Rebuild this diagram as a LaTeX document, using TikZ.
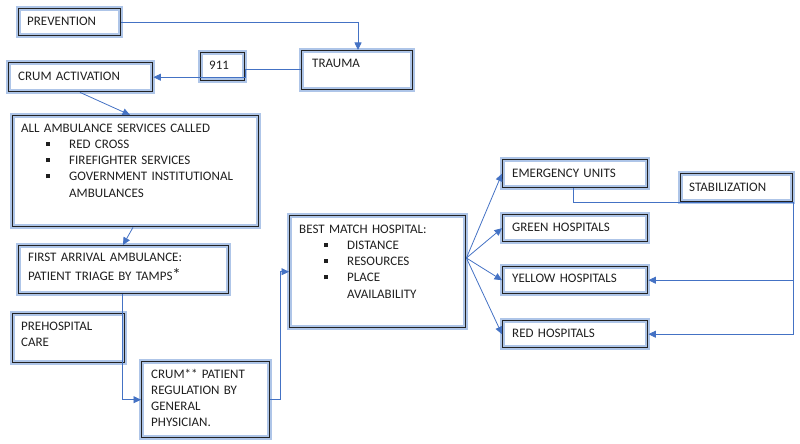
\documentclass[tikz,border=0pt]{standalone}
\usepackage{fontspec}
\setmainfont{Carlito}
\usetikzlibrary{arrows.meta,calc}
\definecolor{conn}{RGB}{68,114,196}
\definecolor{glow}{RGB}{140,172,222}
\definecolor{edge}{RGB}{35,35,35}
\tikzset{
 box/.style={draw=edge, line width=1.4pt, preaction={draw=glow, line width=5pt, opacity=0.7}, rectangle, inner sep=0pt, anchor=north west},
 txt/.style={inner sep=0pt, anchor=base west, text=black!88, font=\fontsize{13}{16.3}\selectfont, align=left, text width=250pt},
 link/.style={draw=conn, line width=0.8pt},
 arr/.style={link, -{Triangle[length=7.5pt,width=7pt]}},
}
\newcommand\bul{\hspace*{25pt}\makebox[23pt][l]{\raisebox{2.5pt}{\rule{4pt}{4pt}}}}
\begin{document}
\begin{tikzpicture}[x=1pt,y=-1pt]
\useasboundingbox (0,0) rectangle (800,444);
% boxes
\node[box, minimum width=102pt, minimum height=27pt] (prev) at (18,8) {};
\node[box, minimum width=111pt, minimum height=39pt] (trauma) at (301,50) {};
\node[box, minimum width=44pt, minimum height=28pt] (n911) at (200,52) {};
\node[box, minimum width=144pt, minimum height=29pt] (crumact) at (8,62) {};
\node[box, minimum width=246pt, minimum height=111pt] (aas) at (12,115) {};
\node[box, minimum width=210pt, minimum height=48pt] (first) at (18,245) {};
\node[box, minimum width=112pt, minimum height=49pt] (prehosp) at (12,313) {};
\node[box, minimum width=128pt, minimum height=76pt] (crumreg) at (141,361) {};
\node[box, minimum width=176pt, minimum height=112pt] (best) at (289,215) {};
\node[box, minimum width=145pt, minimum height=28pt] (emerg) at (502,159) {};
\node[box, minimum width=145pt, minimum height=27pt] (green) at (502,214) {};
\node[box, minimum width=145pt, minimum height=27pt] (yellow) at (502,266) {};
\node[box, minimum width=145pt, minimum height=27pt] (red) at (502,320) {};
\node[box, minimum width=112pt, minimum height=28pt] (stab) at (680,173) {};
% texts
\node[txt] (prev-t) at ([shift={(9,18)}]prev.north west) {PREVENTION};
\node[txt] (trauma-t) at ([shift={(11,17)}]trauma.north west) {TRAUMA};
\node[txt] (n911-t) at ([shift={(9,18)}]n911.north west) {911};
\node[txt] (crumact-t) at ([shift={(10,19)}]crumact.north west) {CRUM ACTIVATION};
\node[txt] (aas-t) at ([shift={(9,17)}]aas.north west) {ALL AMBULANCE SERVICES CALLED\\
\bul RED CROSS\\
\bul FIREFIGHTER SERVICES\\
\bul GOVERNMENT INSTITUTIONAL\\
\hspace*{48pt}AMBULANCES};
\node[txt, font=\fontsize{13}{19}\selectfont] (first-t) at ([shift={(10,16)}]first.north west) {FIRST ARRIVAL AMBULANCE:\\
PATIENT TRIAGE BY TAMPS{\fontsize{17}{17}\selectfont *}};
\node[txt] (prehosp-t) at ([shift={(9,17)}]prehosp.north west) {PREHOSPITAL\\ CARE};
\node[txt] (crumreg-t) at ([shift={(10,17)}]crumreg.north west) {CRUM** PATIENT\\ REGULATION BY\\ GENERAL\\ PHYSICIAN.};
\node[txt] (best-t) at ([shift={(10,18)}]best.north west) {BEST MATCH HOSPITAL:\\
\bul DISTANCE\\
\bul RESOURCES\\
\bul PLACE\\
\hspace*{48pt}AVAILABILITY};
\node[txt] (emerg-t) at ([shift={(10,18)}]emerg.north west) {EMERGENCY UNITS};
\node[txt] (green-t) at ([shift={(10,17)}]green.north west) {GREEN HOSPITALS};
\node[txt] (yellow-t) at ([shift={(10,16)}]yellow.north west) {YELLOW HOSPITALS};
\node[txt] (red-t) at ([shift={(10,17)}]red.north west) {RED HOSPITALS};
\node[txt] (stab-t) at ([shift={(9,18)}]stab.north west) {STABILIZATION};
% connectors
\draw[arr] (prev.east) -| ([shift={(57,0)}]trauma.north west);
\draw[link] ([shift={(0,19)}]trauma.north west) -- ([shift={(0,17)}]n911.north east);
\draw[arr] ([shift={(0,17)}]n911.north east) |- (crumact.east);
\draw[arr] ([shift={(72,0)}]crumact.south west) -- ([shift={(118,0)}]aas.north west);
\draw[arr] ([shift={(121,0)}]aas.south west) -- ([shift={(105,0)}]first.north west);
\draw[arr] ([shift={(104,0)}]first.south west) |- (crumreg.west);
\draw[arr] (crumreg.east) -- ++(10,0) |- (best.west);
\coordinate (fan) at ([shift={(0,43)}]best.north east);
\draw[arr] (fan) -- (emerg.west);
\draw[arr] (fan) -- (green.west);
\draw[arr] (fan) -- (yellow.west);
\draw[arr] (fan) -- (red.west);
\draw[link] ([shift={(71,0)}]emerg.south west) |- (stab.south east);
\draw[arr] (stab.south east) |- (red.east);
\draw[arr] (stab.south east |- yellow.east) -- (yellow.east);
\end{tikzpicture}
\end{document}
